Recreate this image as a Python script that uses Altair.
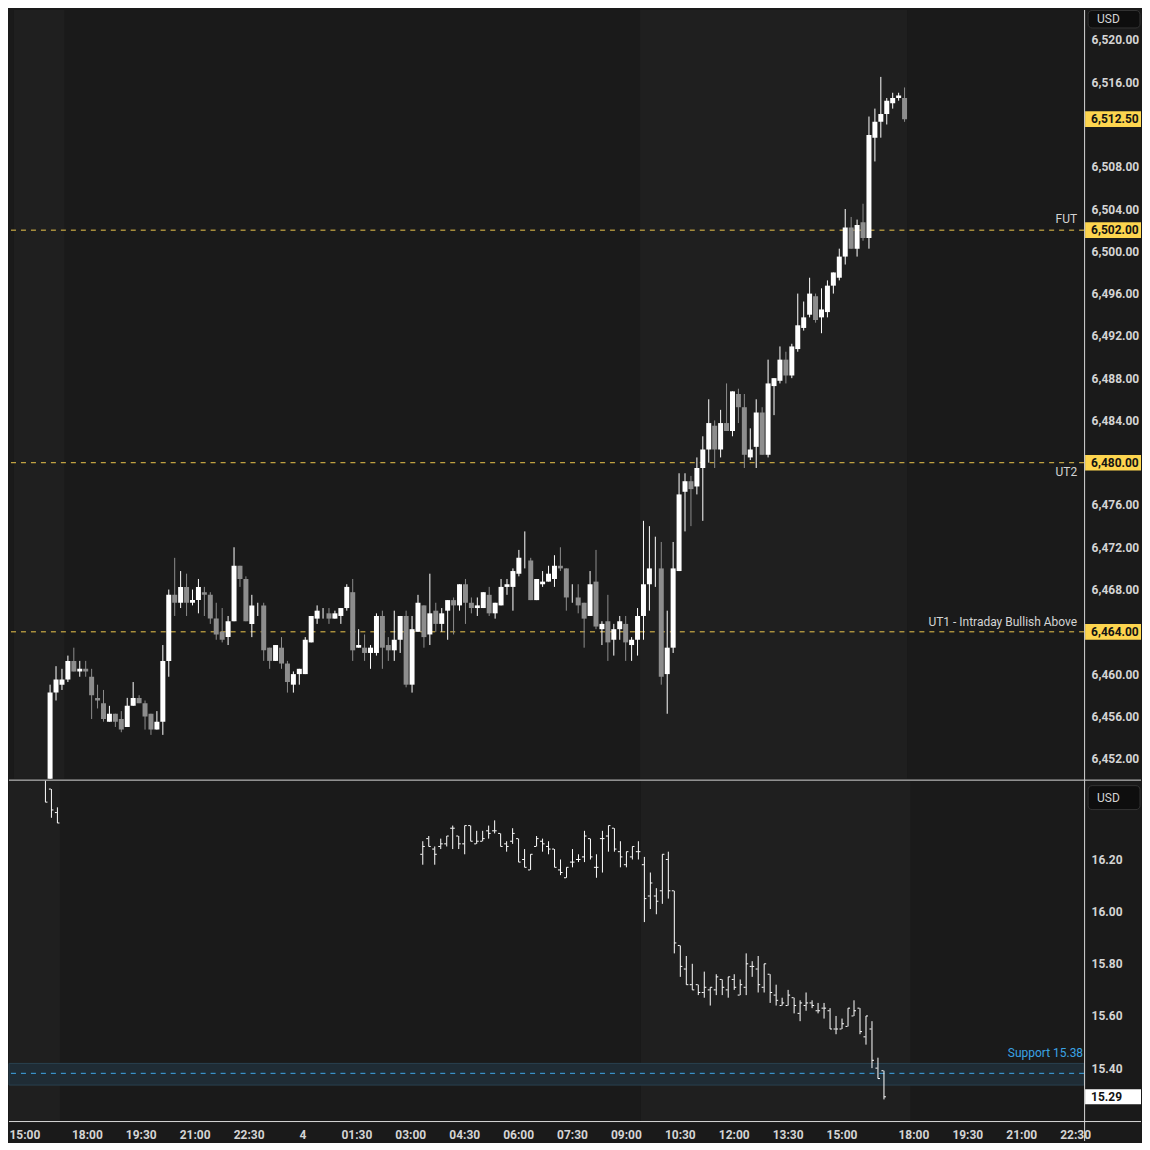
import json
import pandas as pd
import altair as alt

# ---------------- data ----------------
# bar index: 0 = 15:00 (10-minute bars, 17:00-18:00 gap removed)
BARS = list(range(5, 150))
OPEN = [6448.0, 6458.25, 6459.0, 6459.5, 6461.25, 6460.25, 6460.5, 6459.75, 6457.75, 6457.25,
        6455.5, 6456.25, 6455.75, 6455.0, 6457.0, 6457.75, 6457.25, 6456.25, 6454.75, 6455.5,
        6461.25, 6467.5, 6466.75, 6468.25, 6466.75, 6467.0, 6467.75, 6467.5, 6465.25, 6464.0,
        6463.5, 6465.0, 6470.25, 6469.0, 6464.75, 6466.25, 6466.5, 6462.5, 6461.25, 6462.5,
        6461.0, 6459.0, 6460.0, 6460.0, 6463.0, 6465.25, 6466.0, 6465.75, 6465.25, 6465.5,
        6466.25, 6467.75, 6462.5, 6462.5, 6462.0, 6462.0, 6465.5, 6462.75, 6462.25, 6463.25,
        6465.5, 6459.0, 6464.0, 6466.5, 6463.75, 6466.0, 6464.75, 6466.0, 6467.0, 6466.5,
        6468.5, 6466.75, 6466.25, 6466.25, 6467.5, 6465.75, 6466.5, 6468.25, 6468.25, 6469.5,
        6470.75, 6470.75, 6467.0, 6468.5, 6468.75, 6469.0, 6470.25, 6470.0, 6467.5, 6467.25,
        6466.75, 6465.5, 6468.75, 6464.25, 6465.0, 6463.25, 6464.25, 6464.75, 6462.75, 6463.25,
        6465.5, 6468.5, 6470.25, 6470.0, 6460.0, 6462.5, 6469.75, 6477.25, 6478.25, 6477.75,
        6479.5, 6481.25, 6483.5, 6481.25, 6483.75, 6483.0, 6486.5, 6485.25, 6480.5, 6481.5,
        6484.75, 6480.75, 6487.25, 6487.75, 6489.75, 6488.25, 6490.75, 6492.75, 6494.0, 6495.75,
        6493.75, 6494.25, 6496.75, 6497.5, 6499.5, 6502.25, 6500.25, 6502.75, 6501.25, 6510.75,
        6512.25, 6513.0, 6514.0, 6514.5, 6514.5]
HIGH = [6459.0, 6460.75, 6460.5, 6461.75, 6462.5, 6461.25, 6461.25, 6460.5, 6459.0, 6458.5,
        6457.0, 6456.25, 6456.5, 6457.75, 6459.25, 6458.0, 6457.5, 6456.25, 6456.5, 6462.75,
        6468.0, 6471.0, 6469.75, 6469.5, 6468.0, 6469.0, 6468.25, 6467.75, 6466.75, 6466.25,
        6465.5, 6472.0, 6470.25, 6469.25, 6467.5, 6466.75, 6466.75, 6462.5, 6462.75, 6463.5,
        6461.25, 6460.25, 6460.5, 6463.5, 6465.5, 6466.5, 6466.25, 6466.25, 6466.0, 6466.25,
        6468.5, 6469.0, 6464.25, 6463.75, 6462.75, 6465.75, 6466.0, 6463.5, 6466.0, 6465.5,
        6466.0, 6465.5, 6467.5, 6466.5, 6469.5, 6466.75, 6466.25, 6467.0, 6467.25, 6468.5,
        6469.0, 6467.25, 6467.25, 6467.75, 6468.25, 6466.75, 6469.0, 6469.0, 6470.0, 6471.75,
        6473.5, 6471.0, 6469.0, 6469.75, 6470.25, 6471.25, 6472.0, 6470.0, 6468.5, 6468.5,
        6466.75, 6469.75, 6471.75, 6465.0, 6467.5, 6464.75, 6465.5, 6465.5, 6463.5, 6466.25,
        6474.5, 6474.0, 6473.0, 6472.5, 6466.0, 6472.5, 6479.0, 6479.0, 6478.75, 6480.5,
        6482.5, 6486.0, 6484.0, 6485.0, 6487.5, 6486.75, 6487.0, 6486.5, 6483.25, 6486.0,
        6485.25, 6489.75, 6488.0, 6491.0, 6490.5, 6491.25, 6496.0, 6495.25, 6497.5, 6496.0,
        6496.5, 6497.25, 6498.0, 6500.25, 6504.0, 6503.25, 6503.0, 6504.5, 6512.75, 6513.5,
        6516.5, 6514.5, 6515.0, 6515.0, 6515.5]
LOW = [6447.5, 6457.5, 6458.5, 6459.25, 6460.25, 6459.75, 6459.75, 6455.75, 6456.75, 6455.5,
       6455.5, 6455.0, 6454.5, 6455.0, 6457.0, 6457.25, 6454.75, 6454.25, 6454.75, 6454.25,
       6459.75, 6465.5, 6466.25, 6465.5, 6466.5, 6465.75, 6465.5, 6464.75, 6463.25, 6463.0,
       6462.75, 6465.0, 6468.25, 6465.0, 6463.5, 6465.5, 6461.25, 6460.5, 6461.25, 6460.5,
       6458.25, 6458.25, 6459.0, 6460.0, 6463.0, 6464.75, 6465.25, 6464.75, 6465.25, 6464.75,
       6466.0, 6461.25, 6462.5, 6461.25, 6460.5, 6461.75, 6460.5, 6461.25, 6461.25, 6462.0,
       6458.75, 6458.25, 6464.0, 6462.5, 6462.75, 6464.0, 6464.0, 6463.25, 6463.75, 6466.0,
       6464.75, 6465.75, 6465.5, 6466.25, 6465.5, 6465.25, 6466.5, 6467.5, 6466.0, 6469.25,
       6470.0, 6467.0, 6467.0, 6468.25, 6468.75, 6468.25, 6469.75, 6466.0, 6466.75, 6465.75,
       6462.5, 6465.5, 6464.25, 6462.75, 6461.25, 6461.75, 6463.25, 6461.25, 6461.25, 6461.75,
       6463.25, 6466.0, 6468.25, 6459.0, 6456.25, 6462.0, 6469.75, 6473.5, 6474.0, 6477.0,
       6474.5, 6480.0, 6479.5, 6480.5, 6483.0, 6482.5, 6483.75, 6479.5, 6480.25, 6479.5,
       6480.75, 6480.5, 6484.5, 6487.5, 6487.5, 6488.0, 6490.5, 6492.5, 6493.75, 6493.25,
       6492.25, 6493.75, 6496.0, 6497.25, 6498.75, 6500.25, 6499.5, 6501.0, 6500.25, 6508.5,
       6510.75, 6512.0, 6513.5, 6514.25, 6512.25]
CLOSE = [6458.25, 6459.5, 6459.5, 6461.25, 6460.25, 6460.5, 6460.25, 6458.0, 6457.5, 6455.75,
         6456.25, 6455.5, 6454.75, 6457.0, 6457.75, 6457.25, 6456.0, 6454.75, 6455.5, 6461.25,
         6467.5, 6466.75, 6468.25, 6466.75, 6467.0, 6468.25, 6467.5, 6465.25, 6463.75, 6463.25,
         6465.0, 6470.25, 6469.0, 6465.0, 6466.5, 6466.25, 6462.25, 6461.25, 6462.75, 6461.0,
         6459.25, 6460.0, 6460.5, 6463.25, 6465.5, 6466.0, 6466.0, 6465.25, 6465.75, 6466.25,
         6468.25, 6462.25, 6462.75, 6462.0, 6462.5, 6465.5, 6462.5, 6462.25, 6463.25, 6465.5,
         6459.0, 6464.25, 6466.75, 6463.5, 6465.75, 6464.75, 6465.75, 6467.0, 6466.5, 6468.5,
         6466.75, 6466.25, 6466.5, 6467.75, 6465.75, 6466.75, 6468.25, 6468.5, 6469.75, 6471.0,
         6470.75, 6467.0, 6469.0, 6468.75, 6469.5, 6470.25, 6470.0, 6467.25, 6467.5, 6466.5,
         6465.25, 6468.5, 6464.5, 6464.75, 6463.0, 6464.25, 6465.0, 6463.0, 6463.25, 6465.5,
         6468.5, 6470.0, 6470.25, 6459.75, 6462.5, 6470.0, 6477.0, 6478.25, 6477.5, 6479.5,
         6481.25, 6483.75, 6481.25, 6483.75, 6483.0, 6486.75, 6485.25, 6480.75, 6481.25, 6484.75,
         6480.75, 6487.5, 6488.0, 6489.75, 6488.25, 6491.0, 6493.0, 6493.75, 6496.0, 6493.5,
         6494.5, 6496.75, 6498.0, 6499.5, 6502.25, 6500.25, 6502.5, 6501.25, 6511.0, 6512.25,
         6513.0, 6514.25, 6514.5, 6514.75, 6512.5]

VIX_BARS = [5, 6, 7] + list(range(68, 146))
VIX_OPEN = [16.55, 16.47, 16.38,
            16.22, 16.28, 16.24, 16.25, 16.26, 16.32, 16.29, 16.26, 16.33, 16.26,
            16.27, 16.31, 16.31, 16.30, 16.26, 16.27, 16.28, 16.20, 16.16, 16.25,
            16.27, 16.25, 16.24, 16.16, 16.13, 16.19, 16.20, 16.21, 16.28, 16.17,
            16.28, 16.29, 16.32, 16.23, 16.18, 16.21, 16.23, 16.18, 16.06, 16.06,
            16.08, 16.20, 16.08, 15.87, 15.78, 15.72, 15.72, 15.69, 15.70, 15.70,
            15.74, 15.70, 15.74, 15.68, 15.71, 15.79, 15.78, 15.71, 15.76, 15.68,
            15.64, 15.64, 15.67, 15.61, 15.64, 15.65, 15.62, 15.63, 15.62, 15.55,
            15.55, 15.56, 15.60, 15.63, 15.52, 15.55, 15.40, 15.39]
VIX_HIGH = [16.56, 16.47, 16.40,
            16.27, 16.29, 16.25, 16.28, 16.29, 16.33, 16.29, 16.33, 16.33, 16.31,
            16.31, 16.33, 16.35, 16.30, 16.27, 16.32, 16.28, 16.24, 16.22, 16.29,
            16.28, 16.27, 16.24, 16.20, 16.17, 16.24, 16.22, 16.31, 16.28, 16.22,
            16.31, 16.33, 16.32, 16.27, 16.23, 16.25, 16.27, 16.21, 16.15, 16.09,
            16.22, 16.23, 16.08, 15.87, 15.83, 15.80, 15.72, 15.77, 15.71, 15.76,
            15.74, 15.75, 15.76, 15.74, 15.84, 15.81, 15.83, 15.80, 15.76, 15.72,
            15.67, 15.70, 15.67, 15.66, 15.69, 15.66, 15.65, 15.65, 15.63, 15.60,
            15.59, 15.63, 15.66, 15.63, 15.60, 15.58, 15.44, 15.39]
VIX_LOW = [16.42, 16.36, 16.34,
           16.18, 16.25, 16.18, 16.24, 16.25, 16.24, 16.24, 16.22, 16.27, 16.26,
           16.27, 16.28, 16.30, 16.25, 16.23, 16.26, 16.19, 16.17, 16.16, 16.25,
           16.23, 16.22, 16.17, 16.14, 16.13, 16.17, 16.19, 16.19, 16.20, 16.13,
           16.15, 16.23, 16.23, 16.17, 16.17, 16.20, 16.20, 15.96, 16.01, 15.99,
           16.03, 16.05, 15.84, 15.75, 15.72, 15.70, 15.68, 15.67, 15.64, 15.68,
           15.68, 15.67, 15.70, 15.68, 15.68, 15.75, 15.69, 15.69, 15.65, 15.64,
           15.64, 15.64, 15.61, 15.58, 15.62, 15.63, 15.61, 15.59, 15.55, 15.53,
           15.55, 15.56, 15.60, 15.53, 15.49, 15.40, 15.36, 15.28]
VIX_CLOSE = [16.42, 16.39, 16.34,
             16.25, 16.25, 16.22, 16.26, 16.29, 16.32, 16.26, 16.33, 16.27, 16.27,
             16.28, 16.30, 16.31, 16.25, 16.25, 16.30, 16.19, 16.17, 16.22, 16.28,
             16.26, 16.24, 16.17, 16.15, 16.17, 16.19, 16.20, 16.29, 16.21, 16.17,
             16.28, 16.33, 16.24, 16.21, 16.23, 16.25, 16.23, 16.05, 16.11, 16.04,
             16.22, 16.08, 15.88, 15.79, 15.72, 15.70, 15.69, 15.71, 15.71, 15.75,
             15.71, 15.75, 15.71, 15.72, 15.80, 15.79, 15.72, 15.80, 15.69, 15.66,
             15.65, 15.68, 15.64, 15.65, 15.65, 15.64, 15.62, 15.63, 15.55, 15.55,
             15.57, 15.63, 15.62, 15.54, 15.60, 15.43, 15.36, 15.29]

TICK_BARS = [0, 12, 21, 30, 39, 48, 57, 66, 75, 84, 93, 102, 111, 120, 129, 138, 150, 159, 168, 177]
TICK_LABELS = ["15:00", "18:00", "19:30", "21:00", "22:30", "4", "01:30", "03:00", "04:30",
               "06:00", "07:30", "09:00", "10:30", "12:00", "13:30", "15:00", "18:00",
               "19:30", "21:00", "22:30"]

# 6,512.00 is hidden behind the last-price tag in the reference
PRICE_TICKS = [6452, 6456, 6460, 6464, 6468, 6472, 6476, 6480, 6484, 6488, 6492, 6496,
               6500, 6504, 6508, 6516, 6520]
VIX_TICKS = [15.4, 15.6, 15.8, 16.0, 16.2]

LEVELS = [6502.0, 6480.0, 6464.0]
LEVEL_NAMES = ["FUT", "UT2", "UT1 - Intraday Bullish Above"]
PRICE_BOXES = [6512.5, 6502.0, 6480.0, 6464.0]

SESSION_START = [-1, 104.5]
SESSION_END = [7.5, 149.5]

SUPPORT = 15.38
SUPPORT_ZONE = [15.335, 15.418]
VIX_LAST = 15.29

# ---------------- styling ----------------
FONT = "Roboto"
TXT = "#d4d4d4"
BG = "#1a1a1a"
SESSION_BG = "#1f1f1f"
UP = "#ffffff"
DOWN = "#8d8d8d"
LEVEL_COL = "#ecc64c"
BOX_COL = "#fdd54f"
LINE_COL = "#d8d8d8"
AX_W = "bold"

W = 1077
H1 = 770
H2 = 341

x_scale = alt.Scale(domain=[-1, 178.5], nice=False, zero=False)
y_scale = alt.Scale(domain=[6450.11, 6522.83], nice=False, zero=False)
v_scale = alt.Scale(domain=[15.1971, 16.5024], nice=False, zero=False)
dir_scale = alt.Scale(domain=["up", "down"], range=[UP, DOWN])

price_axis = alt.Axis(orient="right", values=PRICE_TICKS, format=",.2f", labelColor=TXT,
                      labelFont=FONT, labelFontSize=12, labelFontWeight=AX_W, labelPadding=7,
                      ticks=False, domain=False, grid=False, title=None, labelOverlap=False)
vix_axis = alt.Axis(orient="right", values=VIX_TICKS, format=".2f", labelColor=TXT,
                    labelFont=FONT, labelFontSize=12, labelFontWeight=AX_W, labelPadding=7,
                    ticks=False, domain=False, grid=False, title=None, labelOverlap=False)
time_expr = f"{json.dumps(TICK_LABELS)}[indexof({json.dumps(TICK_BARS)}, datum.value)]"
time_axis = alt.Axis(values=TICK_BARS, labelExpr=time_expr, labelColor=TXT, labelFont=FONT,
                     labelFontSize=12, labelFontWeight=AX_W, ticks=False, tickSize=0,
                     domain=False, grid=False, labelPadding=8, title=None, labelOverlap=False,
                     labelFlush=7, labelFlushOffset=6)


def XU(f):
    return alt.X(f, scale=x_scale, axis=None)


def XL(f):
    return alt.X(f, scale=x_scale, axis=time_axis)


def YU(f):
    return alt.Y(f, scale=y_scale, axis=price_axis)


def YL(f):
    return alt.Y(f, scale=v_scale, axis=vix_axis)


candles = pd.DataFrame({"bar": BARS, "open": OPEN, "high": HIGH, "low": LOW, "close": CLOSE})
candles["dir"] = ["up" if c >= o else "down" for o, c in zip(OPEN, CLOSE)]
vix = pd.DataFrame({"bar": VIX_BARS, "open": VIX_OPEN, "high": VIX_HIGH, "low": VIX_LOW,
                    "close": VIX_CLOSE})
sessions = pd.DataFrame({"start": SESSION_START, "end": SESSION_END})
levels = pd.DataFrame({"level": LEVELS, "name": LEVEL_NAMES})
boxes = pd.DataFrame({"price": PRICE_BOXES})

# ---------------- upper pane ----------------
sess_u = alt.Chart(sessions).mark_rect(color=SESSION_BG).encode(
    x=XU("start:Q"), x2="end:Q", y=alt.value(0), y2=alt.value(H1))

level_rules = alt.Chart(levels).mark_rule(color=LEVEL_COL, strokeDash=[5, 5], strokeWidth=1).encode(
    y=YU("level:Q"))

wicks = alt.Chart(candles).mark_rule(strokeWidth=1, xOffset=0.5, clip=True).encode(
    x=XU("bar:Q"), y=YU("low:Q"), y2="high:Q",
    color=alt.Color("dir:N", scale=dir_scale, legend=None))
bodies = alt.Chart(candles).mark_bar(size=5, xOffset=0.5, minBandSize=1, clip=True).encode(
    x=XU("bar:Q"), y=YU("open:Q"), y2="close:Q",
    color=alt.Color("dir:N", scale=dir_scale, legend=None))


def level_text(name, dy):
    return alt.Chart(levels).transform_filter(alt.datum.name == name).mark_text(
        align="right", baseline="middle", dy=dy, color=TXT, font=FONT, fontSize=12).encode(
        x=alt.value(1070), y=YU("level:Q"), text="name:N")


lt1 = level_text("FUT", -11)
lt2 = level_text("UT2", 9)
lt3 = level_text("UT1 - Intraday Bullish Above", -10)

box_rects = alt.Chart(boxes).transform_calculate(
    top="datum.price + 0.74", bot="datum.price - 0.74").mark_rect(color=BOX_COL).encode(
    x=alt.value(1078), x2=alt.value(1134), y=YU("top:Q"), y2="bot:Q")
box_text = alt.Chart(boxes).mark_text(align="left", baseline="middle", color="#131313",
                                      font=FONT, fontSize=12, fontWeight=AX_W).encode(
    x=alt.value(1084), y=YU("price:Q"), text=alt.Text("price:Q", format=",.2f"))

usd_u_box = alt.Chart(pd.DataFrame({"t": ["USD"]})).mark_rect(
    fill="#0e0e0e", stroke="#333333", strokeWidth=1, cornerRadius=4).encode(
    x=alt.value(1081), x2=alt.value(1133), y=alt.value(0.5), y2=alt.value(18))
usd_u_txt = alt.Chart(pd.DataFrame({"t": ["USD"]})).mark_text(
    align="left", baseline="middle", color=TXT, font=FONT, fontSize=12).encode(
    x=alt.value(1090), y=alt.value(9), text="t:N")

vline_u = alt.Chart(pd.DataFrame({"t": [0]})).mark_rule(color=LINE_COL, strokeWidth=1).encode(
    x=alt.value(1077.5), y=alt.value(0), y2=alt.value(772))

upper = alt.layer(sess_u, level_rules, wicks, bodies, lt1, lt2, lt3, box_rects, box_text,
                  usd_u_box, usd_u_txt, vline_u).properties(width=W, height=H1)

# ---------------- lower pane ----------------
sess_l = alt.Chart(sessions).mark_rect(color=SESSION_BG).encode(
    x=XL("start:Q"), x2="end:Q", y=alt.value(0), y2=alt.value(H2))

zone = alt.Chart(pd.DataFrame({"lo": [SUPPORT_ZONE[0]], "hi": [SUPPORT_ZONE[1]]})).mark_rect(
    fill="#1f2c35", stroke="#29404e", strokeWidth=1).encode(
    x=alt.value(0), x2=alt.value(W), y=YL("lo:Q"), y2="hi:Q")
sup_df = pd.DataFrame({"v": [SUPPORT], "label": [f"Support {SUPPORT:.2f}"]})
sup_rule = alt.Chart(sup_df).mark_rule(color="#3ea6e6", strokeDash=[5, 5], strokeWidth=1).encode(
    y=YL("v:Q"))
sup_text = alt.Chart(sup_df).mark_text(align="right", baseline="middle", dy=-20,
                                       color="#3aa3e3", font=FONT, fontSize=12).encode(
    x=alt.value(1076), y=YL("v:Q"), text="label:N")

vix_base = alt.Chart(vix).transform_calculate(xl="datum.bar - 0.42", xr="datum.bar + 0.42")
vix_hl = vix_base.mark_rule(color="#ffffff", strokeWidth=1, xOffset=0.5, clip=True).encode(
    x=XL("bar:Q"), y=YL("low:Q"), y2="high:Q")
vix_o = vix_base.mark_rule(color="#ffffff", strokeWidth=1, xOffset=0.5, clip=True).encode(
    x=XL("xl:Q"), x2="bar:Q", y=YL("open:Q"))
vix_c = vix_base.mark_rule(color="#ffffff", strokeWidth=1, xOffset=0.5, clip=True).encode(
    x=XL("bar:Q"), x2="xr:Q", y=YL("close:Q"))

last_df = pd.DataFrame({"v": [VIX_LAST]})
last_box = alt.Chart(last_df).transform_calculate(
    top="datum.v + 0.029", bot="datum.v - 0.029").mark_rect(color="#ffffff").encode(
    x=alt.value(1078), x2=alt.value(1134), y=YL("top:Q"), y2="bot:Q")
last_txt = alt.Chart(last_df).mark_text(align="left", baseline="middle", color="#131313",
                                        font=FONT, fontSize=12, fontWeight=AX_W).encode(
    x=alt.value(1084), y=YL("v:Q"), text=alt.Text("v:Q", format=".2f"))

usd_l_box = alt.Chart(pd.DataFrame({"t": ["USD"]})).mark_rect(
    fill="#0e0e0e", stroke="#333333", strokeWidth=1, cornerRadius=4).encode(
    x=alt.value(1081), x2=alt.value(1133), y=alt.value(5), y2=alt.value(29))
usd_l_txt = alt.Chart(pd.DataFrame({"t": ["USD"]})).mark_text(
    align="left", baseline="middle", color=TXT, font=FONT, fontSize=12).encode(
    x=alt.value(1090), y=alt.value(17), text="t:N")

sep_top = alt.Chart(pd.DataFrame({"t": [0]})).mark_rule(color=LINE_COL, strokeWidth=1).encode(
    x=alt.value(0), x2=alt.value(1134), y=alt.value(-0.5))
sep_bot = alt.Chart(pd.DataFrame({"t": [0]})).mark_rule(color=LINE_COL, strokeWidth=1).encode(
    x=alt.value(0), x2=alt.value(1134), y=alt.value(H2 + 0.5))
vline_l = alt.Chart(pd.DataFrame({"t": [0]})).mark_rule(color=LINE_COL, strokeWidth=1).encode(
    x=alt.value(1077.5), y=alt.value(0), y2=alt.value(H2 + 20))

lower = alt.layer(sess_l, zone, sup_rule, sup_text, vix_hl, vix_o, vix_c, last_box, last_txt,
                  usd_l_box, usd_l_txt, sep_top, sep_bot, vline_l).properties(width=W, height=H2)

chart = alt.vconcat(upper, lower, spacing=2, bounds="flush", padding=0).configure(
    background=BG).configure_view(stroke=None)

chart.save("out.html", embed_options={"renderer": "svg", "actions": False})
